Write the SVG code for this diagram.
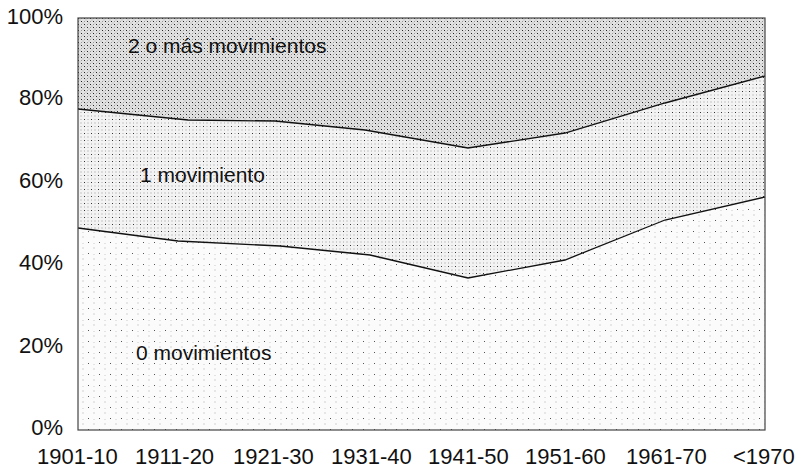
<svg xmlns="http://www.w3.org/2000/svg" width="801" height="472" viewBox="0 0 801 472">
<defs>
<style>
.ax{font-family:"Liberation Sans",Arial,sans-serif;font-size:22px;fill:#111}
.lb{font-family:"Liberation Sans",Arial,sans-serif;font-size:21px;fill:#111}
.ln{fill:none;stroke:#111;stroke-width:1.3}
</style>
<pattern id="p2" width="6" height="6" patternUnits="userSpaceOnUse">
<rect width="6" height="6" fill="#e2e2e2"/>
<rect x="0" y="0" width="1" height="1" fill="#222"/>
<rect x="3" y="3" width="1" height="1" fill="#222"/>
<rect x="3" y="0" width="1" height="1" fill="#999"/>
<rect x="0" y="3" width="1" height="1" fill="#999"/>
<rect x="1.5" y="1.5" width="1" height="1" fill="#aaa"/>
<rect x="4.5" y="4.5" width="1" height="1" fill="#aaa"/>
</pattern>
<pattern id="p1" width="7" height="7" patternUnits="userSpaceOnUse">
<rect width="7" height="7" fill="#f3f3f3"/>
<rect x="0" y="0" width="1" height="1" fill="#333"/>
<rect x="3.5" y="3.5" width="1" height="1" fill="#999"/>
<rect x="3.5" y="0" width="1" height="1" fill="#aaa"/>
<rect x="0" y="3.5" width="1" height="1" fill="#aaa"/>
</pattern>
<pattern id="p0" width="11" height="11" patternUnits="userSpaceOnUse">
<rect width="11" height="11" fill="#fbfbfb"/>
<rect x="0" y="0" width="1" height="1" fill="#555"/>
<rect x="5.5" y="5.5" width="1" height="1" fill="#aaa"/>
<rect x="5.5" y="1" width="1" height="1" fill="#ccc"/>
</pattern>
</defs>
<rect width="801" height="472" fill="#fff"/>
<g id="areas">
<polygon id="area-2" fill="url(#p2)" points="78,18 765,18 765,76 665,103 565,133 468,148 365,130 275,121 188,120 78,109"/>
<polygon id="area-1" fill="url(#p1)" points="78,109 188,120 275,121 365,130 468,148 565,133 665,103 765,76 765,197 665,220 565,260 468,278 370,255 280,246 178,241 78,228"/>
<polygon id="area-0" fill="url(#p0)" points="78,228 178,241 280,246 370,255 468,278 565,260 665,220 765,197 765,430 78,430"/>
</g>
<g id="connectors">
<polyline class="ln" points="78,109 188,120 275,121 365,130 468,148 565,133 665,103 765,76"/>
<polyline class="ln" points="78,228 178,241 280,246 370,255 468,278 565,260 665,220 765,197"/>
<rect x="78" y="18" width="687" height="412" fill="none" stroke="#444" stroke-width="1.2"/>
</g>
<g id="y-axis" class="ax" text-anchor="end">
<text x="63" y="24">100%</text>
<text x="63" y="105">80%</text>
<text x="63" y="188">60%</text>
<text x="63" y="270">40%</text>
<text x="63" y="353">20%</text>
<text x="63" y="435">0%</text>
</g>
<g id="x-axis" class="ax">
<text x="37" y="464">1901-10</text>
<text x="135" y="464">1911-20</text>
<text x="233" y="464">1921-30</text>
<text x="331" y="464">1931-40</text>
<text x="428" y="464">1941-50</text>
<text x="525" y="464">1951-60</text>
<text x="626" y="464">1961-70</text>
<text x="733" y="464">&lt;1970</text>
</g>
<g id="labels" class="lb">
<text x="128" y="53">2 o más movimientos</text>
<text x="140" y="182">1 movimiento</text>
<text x="136" y="360">0 movimientos</text>
</g>
</svg>
